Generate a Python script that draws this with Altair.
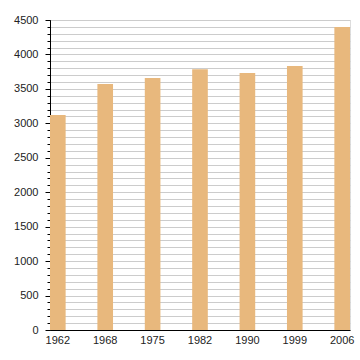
import altair as alt
import pandas as pd

years = ["1962", "1968", "1975", "1982", "1990", "1999", "2006"]
population = [3122, 3571, 3658, 3784, 3731, 3832, 4400]
major_ticks = list(range(0, 4501, 500))
minor_ticks = list(range(0, 4501, 100))

df = pd.DataFrame({"year": years, "pop": population})

FONT = "Liberation Sans"
ydom = [0, 4500]

xenc = alt.X("year:N", sort=years, title=None,
             scale=alt.Scale(paddingInner=0.67, paddingOuter=0.0),
             axis=alt.Axis(labelAngle=0, tickSize=0, labelPadding=4, domainColor="#000000",
                           labelFont=FONT, labelFontSize=11, labelColor="#222222", grid=False))

minor = alt.Chart(df).mark_bar(opacity=0).encode(
    x=xenc,
    y=alt.Y("pop:Q", title=None, scale=alt.Scale(domain=ydom, nice=False),
            axis=alt.Axis(values=minor_ticks, labels=False, tickSize=3, tickColor="#000000",
                          gridColor="#cccccc", gridWidth=1, domain=False, orient="left")),
)

bars = alt.Chart(df).mark_bar(color="#E8B87D").encode(
    x=xenc,
    y=alt.Y("pop:Q", title=None, scale=alt.Scale(domain=ydom, nice=False),
            axis=alt.Axis(values=major_ticks, format="d", tickSize=5, tickColor="#000000",
                          gridColor="#999999", gridWidth=1, domainColor="#000000",
                          labelFont=FONT, labelFontSize=11, labelColor="#222222",
                          labelPadding=7, orient="left")),
)

chart = alt.layer(minor, bars).resolve_axis(y="independent").properties(
    width=300, height=310,
    autosize=alt.AutoSizeParams(type="none"),
    padding={"left": 50, "top": 20, "right": 10, "bottom": 30},
).configure_view(stroke=None).configure(background="#ffffff")

chart.save("out.html", embed_options={"renderer": "svg", "actions": False})
